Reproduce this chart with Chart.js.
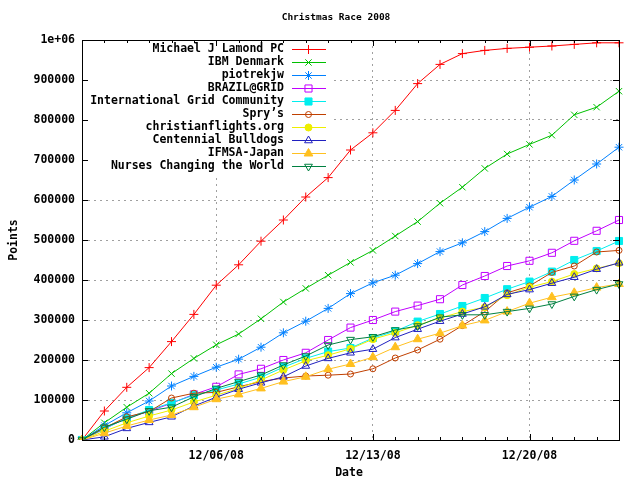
<!DOCTYPE html>
<html>
<head>
<meta charset="utf-8">
<script src="https://cdn.jsdelivr.net/npm/chart.js@4.4.1/dist/chart.umd.min.js"></script>
<style>
  html, body { margin: 0; padding: 0; background: #fff; }
  #raceChart { display: block; }
</style>
</head>
<body>
<canvas id="raceChart" width="640" height="480"></canvas>
<script>
// one point per day, 11/30/08 .. 12/24/08
var dates = ['11/30/08', '12/01/08', '12/02/08', '12/03/08', '12/04/08', '12/05/08',
    '12/06/08', '12/07/08', '12/08/08', '12/09/08', '12/10/08', '12/11/08', '12/12/08',
    '12/13/08', '12/14/08', '12/15/08', '12/16/08', '12/17/08', '12/18/08', '12/19/08',
    '12/20/08', '12/21/08', '12/22/08', '12/23/08', '12/24/08'];
var majorDates = ['12/06/08', '12/13/08', '12/20/08'];
var yTickLabels = ['0', '100000', '200000', '300000', '400000', '500000',
    '600000', '700000', '800000', '900000', '1e+06'];

var lamond = [0, 72500, 131700, 181000, 246000, 314000, 387000, 438000, 497000, 550000,
    607500, 656000, 725000, 768000, 824000, 891000, 939000, 966000, 974000, 979000,
    982000, 985000, 989000, 993000, 993000];
var ibm = [0, 43000, 82000, 117000, 166000, 204000, 238000, 265000, 303000, 345000,
    379000, 412000, 444000, 474000, 510000, 546000, 592000, 632000, 679000, 715000,
    739000, 762000, 813000, 832000, 872000];
var piotrek = [0, 36000, 68000, 97500, 135000, 159000, 182000, 202000, 232000, 268000,
    297000, 329000, 366000, 393000, 412000, 441000, 471000, 493000, 521000, 554000,
    582000, 609000, 650000, 690000, 732000];
var brazil = [0, 28000, 55000, 72000, 92000, 114000, 133000, 164000, 178000, 200000,
    218000, 250000, 281000, 300000, 321000, 336000, 352000, 387500, 410000, 435000,
    448000, 468000, 498000, 523000, 550000];
var intlGrid = [0, 28000, 55000, 75000, 93000, 112000, 125000, 140000, 157000, 182000,
    204000, 221000, 230000, 255000, 272000, 296000, 315000, 335000, 355000, 377000,
    396000, 421000, 450000, 472500, 497500];
var sprys = [0, 30000, 58000, 71000, 105000, 117000, 119000, 133000, 146000, 155000,
    160000, 162000, 165000, 178000, 205000, 225000, 252000, 286000, 321000, 368000,
    385000, 419000, 435000, 470000, 474000];
var christian = [0, 22000, 43000, 60000, 75000, 95000, 112000, 129000, 150000, 175000,
    198000, 212000, 228000, 252000, 268000, 287000, 305000, 321000, 332000, 362000,
    382000, 396000, 415000, 429000, 442000];
var bulldogs = [0, 8000, 29000, 44000, 58000, 85000, 107000, 127000, 143000, 158000,
    185000, 204000, 218000, 227000, 256000, 277000, 297000, 315000, 333000, 364000,
    376000, 392000, 407000, 427000, 443000];
var ifmsa = [0, 17000, 35000, 50000, 62500, 82000, 102000, 114000, 129000, 146000,
    158000, 177000, 190000, 207000, 232000, 252000, 267000, 286000, 299000, 321000,
    342000, 357000, 368000, 381000, 390000];
var nurses = [0, 32000, 52000, 73000, 82000, 108000, 129000, 146000, 162500, 187500,
    210000, 237500, 251000, 258000, 275000, 285000, 307000, 313000, 313000, 321000,
    329000, 340000, 359000, 376000, 390000];

var FONT = '"DejaVu Sans Mono", "Liberation Mono", monospace';

function series(label, data, color, style, radius, filled, rotation) {
    return {
        label: label,
        data: data,
        borderColor: color,
        backgroundColor: color,
        borderWidth: 1,
        pointStyle: style,
        pointRadius: radius,
        pointHoverRadius: radius,
        pointRotation: rotation || 0,
        pointBorderWidth: 1,
        pointBorderColor: color,
        pointBackgroundColor: filled ? color : 'rgba(0,0,0,0)',
        tension: 0,
        fill: false
    };
}

var datasets = [
    series('Michael J Lamond PC', lamond, '#ff0000', 'cross', 4.5, false),
    series('IBM Denmark', ibm, '#00c000', 'crossRot', 4.5, false),
    series('piotrekjw', piotrek, '#0080ff', 'star', 4.5, false),
    series('BRAZIL@GRID', brazil, '#c000ff', 'rect', 5, false),
    series('International Grid Community', intlGrid, '#00eeee', 'rect', 5, true),
    series('Spry\u2019s', sprys, '#c04000', 'circle', 3, false),
    series('christianflights.org', christian, '#eeee00', 'circle', 3.5, true),
    series('Centennial Bulldogs', bulldogs, '#2020c0', 'triangle', 4.5, false),
    series('IFMSA-Japan', ifmsa, '#ffc020', 'triangle', 5, true),
    series('Nurses Changing the World', nurses, '#008040', 'triangle', 4.5, false, 180)
];
// gnuplot paints later series on top
datasets.forEach(function (ds, i) { ds.order = datasets.length - i; });

// key sample marker, same shapes as the chart's point styles
function drawMarker(ctx, ds, x, y) {
    var r = ds.pointRadius;
    var filled = ds.pointBackgroundColor !== 'rgba(0,0,0,0)';
    ctx.beginPath();
    if (ds.pointStyle === 'cross' || ds.pointStyle === 'star') {
        ctx.moveTo(x - r, y); ctx.lineTo(x + r, y);
        ctx.moveTo(x, y - r); ctx.lineTo(x, y + r);
    }
    if (ds.pointStyle === 'crossRot' || ds.pointStyle === 'star') {
        var d = r * Math.SQRT1_2;
        ctx.moveTo(x - d, y - d); ctx.lineTo(x + d, y + d);
        ctx.moveTo(x - d, y + d); ctx.lineTo(x + d, y - d);
    }
    if (ds.pointStyle === 'rect') {
        var s = r * Math.SQRT1_2;
        ctx.rect(x - s, y - s, 2 * s, 2 * s);
    }
    if (ds.pointStyle === 'circle') {
        ctx.arc(x, y, r, 0, Math.PI * 2);
    }
    if (ds.pointStyle === 'triangle') {
        var a = (ds.pointRotation || 0) * Math.PI / 180;
        for (var k = 0; k < 3; k++) {
            var px = x + Math.sin(a) * r, py = y - Math.cos(a) * r;
            if (k === 0) ctx.moveTo(px, py); else ctx.lineTo(px, py);
            a += Math.PI * 2 / 3;
        }
        ctx.closePath();
    }
    if (filled) {
        ctx.fillStyle = ds.borderColor;
        ctx.fill();
    }
    ctx.strokeStyle = ds.borderColor;
    ctx.stroke();
}

var gnuplotDecor = {
    id: 'gnuplotDecor',
    beforeDatasetsDraw: function (chart) {
        // key box hides the grid behind it
        var ctx = chart.ctx;
        ctx.save();
        ctx.fillStyle = '#ffffff';
        ctx.fillRect(83, 41, 250, 133);
        ctx.restore();
    },
    afterDraw: function (chart) {
        var ctx = chart.ctx;
        var area = chart.chartArea;
        var xs = chart.scales.x;
        var ys = chart.scales.y;
        ctx.save();

        // tics, mirrored on top and right, pointing inwards
        ctx.strokeStyle = '#000000';
        ctx.lineWidth = 1;
        ctx.beginPath();
        dates.forEach(function (d, i) {
            var x = Math.round(xs.getPixelForValue(i)) + 0.5;
            var len = majorDates.indexOf(d) >= 0 ? 6 : 3;
            ctx.moveTo(x, area.bottom);
            ctx.lineTo(x, area.bottom - len);
            ctx.moveTo(x, area.top);
            ctx.lineTo(x, area.top + len);
        });
        yTickLabels.forEach(function (t, i) {
            var y = Math.round(ys.getPixelForValue(i * 100000)) + 0.5;
            ctx.moveTo(area.left, y);
            ctx.lineTo(area.left + 6, y);
            ctx.moveTo(area.right, y);
            ctx.lineTo(area.right - 6, y);
        });
        ctx.stroke();

        // border
        ctx.strokeRect(Math.round(area.left) + 0.5, Math.round(area.top) + 0.5,
            Math.round(area.right - area.left), Math.round(area.bottom - area.top));

        // key
        ctx.font = 'bold 11.5px ' + FONT;
        ctx.textAlign = 'right';
        ctx.textBaseline = 'middle';
        chart.data.datasets.forEach(function (ds, i) {
            var y = 49.5 + i * 13;
            ctx.fillStyle = '#000000';
            ctx.fillText(ds.label, 284, y);
            ctx.strokeStyle = ds.borderColor;
            ctx.lineWidth = 1;
            ctx.beginPath();
            ctx.moveTo(292, y);
            ctx.lineTo(326, y);
            ctx.stroke();
            drawMarker(ctx, ds, 308.5, y);
        });

        // titles
        ctx.fillStyle = '#000000';
        ctx.textAlign = 'center';
        ctx.font = 'bold 9.5px ' + FONT;
        ctx.fillText('Christmas Race 2008', 336, 18);
        ctx.font = 'bold 11.5px ' + FONT;
        ctx.fillText('Date', 349, 473);
        ctx.translate(14, 240);
        ctx.rotate(-Math.PI / 2);
        ctx.fillText('Points', 0, 0);
        ctx.restore();
    }
};

var ctxRace = document.getElementById('raceChart').getContext('2d');
var raceChart = new Chart(ctxRace, {
    type: 'line',
    data: {
        labels: dates,
        datasets: datasets
    },
    plugins: [gnuplotDecor],
    options: {
        responsive: false,
        animation: false,
        devicePixelRatio: 1,
        layout: { padding: { top: 40, right: 21, left: 0, bottom: 0 } },
        plugins: {
            legend: { display: false },
            title: { display: false },
            tooltip: { enabled: false }
        },
        scales: {
            x: {
                type: 'category',
                offset: false,
                afterFit: function (scale) { scale.height = 40; },
                grid: {
                    offset: false,
                    drawTicks: false,
                    color: function (c) {
                        return majorDates.indexOf(dates[c.index]) >= 0 ? '#a0a0a0' : 'rgba(0,0,0,0)';
                    }
                },
                border: { display: false, dash: [2, 4] },
                ticks: {
                    autoSkip: false,
                    maxRotation: 0,
                    padding: 9,
                    color: '#000000',
                    font: { family: FONT, size: 11.5, weight: 'bold' },
                    callback: function (v, i) {
                        return majorDates.indexOf(dates[i]) >= 0 ? dates[i] : '';
                    }
                }
            },
            y: {
                min: 0,
                max: 1000000,
                afterFit: function (scale) { scale.width = 82; },
                grid: { drawTicks: false, color: '#a0a0a0' },
                border: { display: false, dash: [2, 4] },
                ticks: {
                    stepSize: 100000,
                    padding: 7,
                    color: '#000000',
                    font: { family: FONT, size: 11.5, weight: 'bold' },
                    callback: function (v, i) { return yTickLabels[i]; }
                }
            }
        }
    }
});
</script>
</body>
</html>
